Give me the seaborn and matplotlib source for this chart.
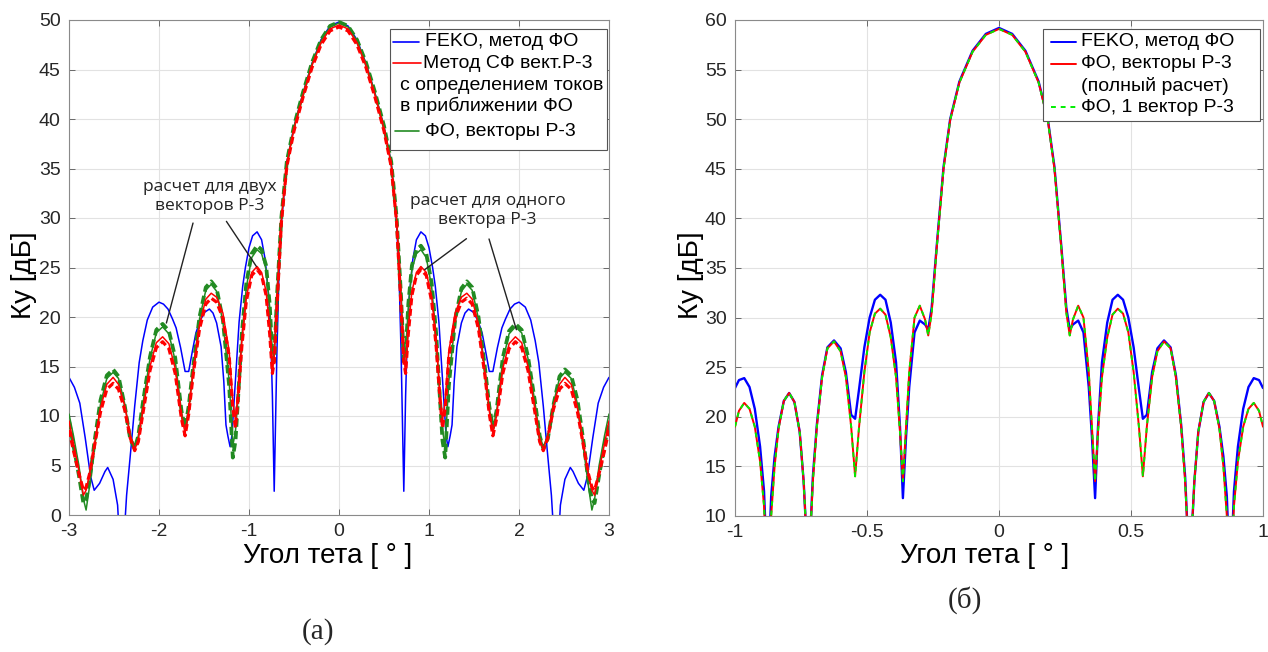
import matplotlib
matplotlib.use("Agg")
import matplotlib.pyplot as plt
from matplotlib.patches import Rectangle
from matplotlib.lines import Line2D
import seaborn as sns
import pandas as pd

# ---------------- data: panel (a) ----------------
theta_feko_a = [-3.00, -2.94, -2.88, -2.82, -2.76, -2.72, -2.66, -2.60, -2.57, -2.51, -2.46, -2.43, -2.40, -2.36,
                -2.31, -2.27, -2.22, -2.18, -2.13, -2.07, -2.00, -1.95, -1.90, -1.85, -1.81, -1.76, -1.71, -1.67,
                -1.63, -1.59, -1.54, -1.49, -1.44, -1.40, -1.36, -1.31, -1.28, -1.256, -1.235, -1.21, -1.19, -1.15,
                -1.11, -1.07, -1.04, -1.00, -0.96, -0.91, -0.86, -0.82, -0.78, -0.755, -0.74, -0.72, -0.69, -0.665,
                -0.637, -0.58, -0.5, -0.4, -0.3, -0.2, -0.1,
                0.0, 0.1, 0.2, 0.3, 0.4, 0.5, 0.58, 0.637, 0.665, 0.69, 0.72, 0.74, 0.755, 0.78, 0.82, 0.86, 0.91,
                0.96, 1.00, 1.04, 1.07, 1.11, 1.15, 1.19, 1.21, 1.235, 1.256, 1.28, 1.31, 1.36, 1.40, 1.44, 1.49,
                1.54, 1.59, 1.63, 1.67, 1.71, 1.76, 1.81, 1.85, 1.90, 1.95, 2.00, 2.07, 2.13, 2.18, 2.22, 2.27, 2.31,
                2.36, 2.40, 2.43, 2.46, 2.51, 2.57, 2.60, 2.66, 2.72, 2.76, 2.82, 2.88, 2.94, 3.00]
ku_feko_a = [13.9, 12.9, 11.3, 7.8, 3.9, 2.5, 3.2, 4.4, 4.8, 3.6, 1.0, -4.0, -4.0, 2.0,
             6.9, 11.0, 15.4, 17.6, 19.7, 21.0, 21.5, 21.3, 20.8, 19.8, 18.9, 16.9, 14.5, 14.5,
             16.5, 18.4, 19.7, 20.5, 20.8, 20.4, 19.4, 17.0, 13.5, 9.1, 8.0, 6.9, 8.0, 13.7,
             19.5, 23.1, 25.0, 27.0, 28.2, 28.6, 27.8, 25.8, 22.0, 17.0, 12.0, 2.4, 16.4, 25.0,
             29.8, 35.6, 39.2, 42.6, 45.6, 48.0, 49.4,
             49.8, 49.4, 48.0, 45.6, 42.6, 39.2, 35.6, 29.8, 25.0, 16.4, 2.4, 12.0, 17.0, 22.0, 25.8, 27.8, 28.6,
             28.2, 27.0, 25.0, 23.1, 19.5, 13.7, 8.0, 6.9, 8.0, 9.1, 13.5, 17.0, 19.4, 20.4, 20.8, 20.5,
             19.7, 18.4, 16.5, 14.5, 14.5, 16.9, 18.9, 19.8, 20.8, 21.3, 21.5, 21.0, 19.7, 17.6, 15.4, 11.0, 6.9,
             2.0, -4.0, -4.0, 1.0, 3.6, 4.8, 4.4, 3.2, 2.5, 3.9, 7.8, 11.3, 12.9, 13.9]

theta_po_a = [-3.00, -2.95, -2.89, -2.84, -2.81, -2.77, -2.72, -2.65, -2.58, -2.51, -2.45, -2.38, -2.32, -2.27,
              -2.23, -2.18, -2.10, -2.03, -1.96, -1.89, -1.82, -1.75, -1.71, -1.67, -1.62, -1.55, -1.48, -1.42,
              -1.36, -1.29, -1.22, -1.18, -1.15, -1.12, -1.08, -1.03, -0.97, -0.91, -0.86, -0.81, -0.77, -0.74,
              -0.72, -0.69, -0.64, -0.58, -0.5, -0.4, -0.3, -0.2, -0.1,
              0.0, 0.1, 0.2, 0.3, 0.4, 0.5, 0.58, 0.64, 0.69, 0.72, 0.74, 0.77, 0.81, 0.86, 0.91, 0.97, 1.03,
              1.08, 1.12, 1.15, 1.18, 1.22, 1.29, 1.36, 1.42, 1.48, 1.55, 1.62, 1.67, 1.71, 1.75, 1.82, 1.89,
              1.96, 2.03, 2.10, 2.18, 2.23, 2.27, 2.32, 2.38, 2.45, 2.51, 2.58, 2.65, 2.72, 2.77, 2.81, 2.84,
              2.89, 2.95, 3.00]
ku_sf_a = [9.5, 7.2, 4.5, 2.0, 2.5, 4.2, 7.0, 10.8, 13.2, 13.9, 13.2, 11.0, 8.0, 6.6,
           7.6, 10.5, 15.0, 17.4, 18.0, 17.3, 14.8, 10.0, 8.3, 10.5, 14.5, 19.2, 21.8, 22.4,
           22.0, 20.4, 16.5, 11.5, 9.6, 12.5, 17.5, 22.0, 24.5, 25.1, 24.5, 22.6, 18.8, 14.6,
           16.0, 21.5, 29.8, 35.4, 39.0, 42.4, 45.4, 47.7, 49.1,
           49.5, 49.1, 47.7, 45.4, 42.4, 39.0, 35.4, 29.8, 21.5, 16.0, 14.6, 18.8, 22.6, 24.5, 25.1, 24.5, 22.0,
           17.5, 12.5, 9.6, 11.5, 16.5, 20.4, 22.0, 22.4, 21.8, 19.2, 14.5, 10.5, 8.3, 10.0, 14.8, 17.3,
           18.0, 17.4, 15.0, 10.5, 7.6, 6.6, 8.0, 11.0, 13.2, 13.9, 13.2, 10.8, 7.0, 4.2, 2.5, 2.0,
           4.5, 7.2, 9.5]
ku_sf_a_one = [8.6, 6.5, 4.2, 2.5, 2.8, 4.2, 6.8, 10.4, 12.7, 13.3, 12.7, 10.6, 7.8, 6.5,
               7.4, 10.2, 14.6, 16.9, 17.5, 16.8, 14.3, 9.7, 8.0, 10.2, 14.2, 18.8, 21.3, 21.9,
               21.5, 19.9, 16.0, 10.8, 8.8, 12.0, 17.0, 21.6, 24.2, 24.8, 24.2, 22.2, 18.3, 14.3,
               15.5, 21.0, 29.6, 35.2, 38.8, 42.2, 45.2, 47.5, 48.9,
               49.3, 48.9, 47.5, 45.2, 42.2, 38.8, 35.2, 29.6, 21.0, 15.5, 14.3, 18.3, 22.2, 24.2, 24.8, 24.2, 21.6,
               17.0, 12.0, 8.8, 10.8, 16.0, 19.9, 21.5, 21.9, 21.3, 18.8, 14.2, 10.2, 8.0, 9.7, 14.3, 16.8,
               17.5, 16.9, 14.6, 10.2, 7.4, 6.5, 7.8, 10.6, 12.7, 13.3, 12.7, 10.4, 6.8, 4.2, 2.8, 2.5,
               4.2, 6.5, 8.6]
ku_fo_a = [10.2, 8.0, 5.0, 1.6, 0.5, 3.0, 6.5, 11.2, 13.8, 14.4, 13.8, 11.2, 8.0, 6.9,
           8.0, 11.2, 15.8, 18.4, 19.0, 18.3, 15.6, 10.4, 8.8, 10.8, 14.8, 19.8, 22.7, 23.3,
           22.6, 19.5, 13.5, 7.0, 8.5, 12.0, 18.0, 23.0, 26.0, 26.8, 26.4, 24.8, 21.0, 16.5,
           15.9, 22.5, 30.0, 35.6, 39.2, 42.6, 45.6, 47.9, 49.3,
           49.7, 49.3, 47.9, 45.6, 42.6, 39.2, 35.6, 30.0, 22.5, 15.9, 16.5, 21.0, 24.8, 26.4, 26.8, 26.0, 23.0,
           18.0, 12.0, 8.5, 7.0, 13.5, 19.5, 22.6, 23.3, 22.7, 19.8, 14.8, 10.8, 8.8, 10.4, 15.6, 18.3,
           19.0, 18.4, 15.8, 11.2, 8.0, 6.9, 8.0, 11.2, 13.8, 14.4, 13.8, 11.2, 6.5, 3.0, 0.5, 1.6,
           5.0, 8.0, 10.2]
ku_fo_a_one = [9.5, 7.0, 4.0, 1.2, 1.6, 3.5, 7.2, 11.6, 14.1, 14.7, 14.0, 11.0, 7.7, 6.7,
               8.0, 11.3, 16.0, 18.7, 19.3, 18.6, 15.9, 10.5, 8.8, 11.0, 15.0, 20.0, 23.0, 23.6,
               22.9, 19.7, 13.0, 5.8, 7.5, 12.0, 18.3, 23.4, 26.4, 27.2, 26.8, 25.2, 21.3, 16.2,
               15.5, 22.0, 30.1, 35.7, 39.3, 42.7, 45.7, 48.0, 49.4,
               49.8, 49.4, 48.0, 45.7, 42.7, 39.3, 35.7, 30.1, 22.0, 15.5, 16.2, 21.3, 25.2, 26.8, 27.2, 26.4, 23.4,
               18.3, 12.0, 7.5, 5.8, 13.0, 19.7, 22.9, 23.6, 23.0, 20.0, 15.0, 11.0, 8.8, 10.5, 15.9, 18.6,
               19.3, 18.7, 16.0, 11.3, 8.0, 6.7, 7.7, 11.0, 14.0, 14.7, 14.1, 11.6, 7.2, 3.5, 1.6, 1.2,
               4.0, 7.0, 9.5]

# ---------------- data: panel (б) ----------------
theta_b = [-1.0, -0.985, -0.965, -0.945, -0.925, -0.905, -0.89, -0.876, -0.863, -0.85, -0.835, -0.815, -0.795,
           -0.775, -0.755, -0.74, -0.722, -0.705, -0.69, -0.67, -0.65, -0.625, -0.60, -0.58, -0.56, -0.545,
           -0.53, -0.51, -0.49, -0.47, -0.45, -0.43, -0.41, -0.39, -0.375, -0.364, -0.352, -0.34, -0.32, -0.30,
           -0.28, -0.268, -0.255, -0.236, -0.21, -0.185, -0.15, -0.10, -0.05,
           0.0, 0.05, 0.10, 0.15, 0.185, 0.21, 0.236, 0.255, 0.268, 0.28, 0.30, 0.32, 0.34, 0.352, 0.364, 0.375,
           0.39, 0.41, 0.43, 0.45, 0.47, 0.49, 0.51, 0.53, 0.545, 0.56, 0.58, 0.60, 0.625, 0.65, 0.67, 0.69,
           0.705, 0.722, 0.74, 0.755, 0.775, 0.795, 0.815, 0.835, 0.85, 0.863, 0.876, 0.89, 0.905, 0.925,
           0.945, 0.965, 0.985, 1.0]
ku_feko_b = [22.9, 23.7, 23.9, 23.0, 20.8, 17.0, 12.5, 3.0, 12.0, 16.0, 19.0, 21.6, 22.4,
             21.5, 18.5, 13.5, 4.0, 14.0, 19.2, 24.2, 27.0, 27.7, 26.9, 24.5, 20.2, 19.8,
             22.8, 27.0, 30.0, 31.8, 32.3, 31.8, 29.5, 25.5, 19.0, 11.8, 18.0, 23.0, 28.5, 29.7,
             29.3, 28.8, 31.0, 37.2, 45.2, 50.0, 53.8, 56.9, 58.6,
             59.2, 58.6, 56.9, 53.8, 50.0, 45.2, 37.2, 31.0, 28.8, 29.3, 29.7, 28.5, 23.0, 18.0, 11.8, 19.0,
             25.5, 29.5, 31.8, 32.3, 31.8, 30.0, 27.0, 22.8, 19.8, 20.2, 24.5, 26.9, 27.7, 27.0, 24.2, 19.2,
             14.0, 4.0, 13.5, 18.5, 21.5, 22.4, 21.6, 19.0, 16.0, 12.0, 3.0, 12.5, 17.0, 20.8,
             23.0, 23.9, 23.7, 22.9]
ku_fo_full_b = [19.0, 20.6, 21.4, 20.8, 19.0, 15.5, 11.0, 3.0, 10.0, 15.0, 18.8, 21.6, 22.4,
                21.5, 18.5, 13.5, 4.0, 13.5, 19.0, 24.0, 26.9, 27.6, 26.6, 24.0, 19.0, 14.0,
                19.0, 24.5, 28.5, 30.4, 30.9, 30.3, 28.0, 24.0, 18.5, 13.5, 19.0, 24.5, 30.0, 31.2,
                29.8, 28.2, 30.5, 37.0, 45.0, 49.9, 53.7, 56.8, 58.5,
                59.1, 58.5, 56.8, 53.7, 49.9, 45.0, 37.0, 30.5, 28.2, 29.8, 31.2, 30.0, 24.5, 19.0, 13.5, 18.5,
                24.0, 28.0, 30.3, 30.9, 30.4, 28.5, 24.5, 19.0, 14.0, 19.0, 24.0, 26.6, 27.6, 26.9, 24.0, 19.0,
                13.5, 4.0, 13.5, 18.5, 21.5, 22.4, 21.6, 18.8, 15.0, 10.0, 3.0, 11.0, 15.5, 19.0,
                20.8, 21.4, 20.6, 19.0]
ku_fo_one_b = [19.0, 20.6, 21.4, 20.8, 19.0, 15.5, 11.0, 3.0, 10.0, 15.0, 18.8, 21.6, 22.4,
               21.5, 18.5, 13.5, 4.0, 13.5, 19.0, 24.0, 26.9, 27.6, 26.6, 24.0, 19.0, 14.0,
               19.0, 24.5, 28.5, 30.4, 30.9, 30.3, 28.0, 24.0, 18.5, 13.5, 19.0, 24.5, 30.0, 31.2,
               29.8, 28.2, 30.5, 37.0, 45.0, 49.9, 53.7, 56.8, 58.5,
               59.1, 58.5, 56.8, 53.7, 49.9, 45.0, 37.0, 30.5, 28.2, 29.8, 31.2, 30.0, 24.5, 19.0, 13.5, 18.5,
               24.0, 28.0, 30.3, 30.9, 30.4, 28.5, 24.5, 19.0, 14.0, 19.0, 24.0, 26.6, 27.6, 26.9, 24.0, 19.0,
               13.5, 4.0, 13.5, 18.5, 21.5, 22.4, 21.6, 18.8, 15.0, 10.0, 3.0, 11.0, 15.5, 19.0,
               20.8, 21.4, 20.6, 19.0]

legend_a = ["FEKO, метод ФО", "Метод СФ вект.Р-3", "с определением токов", "в приближении ФО", "ФО, векторы Р-3"]
legend_b = ["FEKO, метод ФО", "ФО, векторы Р-3", "(полный расчет)", "ФО, 1 вектор Р-3"]
xticks_a = [-3, -2, -1, 0, 1, 2, 3]
yticks_a = [0, 5, 10, 15, 20, 25, 30, 35, 40, 45, 50]
xticks_b = [-1, -0.5, 0, 0.5, 1]
yticks_b = [10, 15, 20, 25, 30, 35, 40, 45, 50, 55, 60]

# ---------------- style ----------------
sns.set_theme(style="white")
plt.rcParams['font.family'] = ['Liberation Sans', 'DejaVu Sans']
plt.rcParams['axes.unicode_minus'] = False

W, H = 1268, 652
fig = plt.figure(figsize=(W / 100, H / 100), dpi=100)
fig.patch.set_facecolor('white')
ax1 = fig.add_axes([69 / W, 1 - 515 / H, 540 / W, 495 / H])
ax2 = fig.add_axes([735 / W, 1 - 516 / H, 528 / W, 496 / H])

BLUE = '#0000ff'
RED = '#ff0000'
DGREEN = '#228B22'
LGREEN = '#00ee00'
TXT = '#262626'


def draw(ax, x, y, color, lw, ls='-', z=2):
    sns.lineplot(x=x, y=y, ax=ax, color=color, linewidth=lw, linestyle=ls,
                 estimator=None, sort=False, zorder=z)


draw(ax1, theta_feko_a, ku_feko_a, BLUE, 1.1, '-', 2)
draw(ax1, theta_po_a, ku_fo_a_one, DGREEN, 2.7, (0, (2.2, 1.1)), 3)
draw(ax1, theta_po_a, ku_fo_a, DGREEN, 1.1, '-', 3)
draw(ax1, theta_po_a, ku_sf_a_one, RED, 2.3, (0, (2.2, 1.1)), 4)
draw(ax1, theta_po_a, ku_sf_a, RED, 1.1, '-', 4)

draw(ax2, theta_b, ku_feko_b, BLUE, 1.7, '-', 2)
draw(ax2, theta_b, ku_fo_full_b, RED, 1.4, '-', 3)
draw(ax2, theta_b, ku_fo_one_b, LGREEN, 1.4, (0, (2.5, 2.5)), 4)

for ax, xt, yt, xl, yl in [(ax1, xticks_a, yticks_a, (-3, 3), (0, 50)),
                           (ax2, xticks_b, yticks_b, (-1, 1), (10, 60))]:
    ax.set_xlim(*xl)
    ax.set_ylim(*yl)
    ax.set_xticks(xt)
    ax.set_yticks(yt)
    ax.set_xticklabels([f"{v:g}" for v in xt])
    ax.set_yticklabels([f"{v:g}" for v in yt])
    ax.grid(True, color='#e2e2e2', linewidth=0.8)
    ax.set_axisbelow(True)
    for s in ax.spines.values():
        s.set_visible(True)
        s.set_color('#8a8a8a')
        s.set_linewidth(0.8)
    ax.tick_params(axis='both', which='both', direction='in', length=4, width=0.6,
                   color='#555555', labelcolor=TXT, labelsize=14, top=True, right=True,
                   bottom=True, left=True)
    ax.tick_params(axis='x', pad=6)
    ax.tick_params(axis='y', pad=6)
    ax.set_xlabel("Угол тета [ ° ]", fontsize=20, color='black')
    ax.set_ylabel("Ку [дБ]", fontsize=20, color='black')

ax1.xaxis.set_label_coords((328 - 69) / 540, (515 - 543) / 495)
ax1.yaxis.set_label_coords((37 - 69) / 540, (515 - 275) / 495)
ax2.xaxis.set_label_coords((985 - 735) / 528, (516 - 543) / 496)
ax2.yaxis.set_label_coords((704 - 735) / 528, (516 - 275) / 496)

FT = fig.transFigure


def fx(px):
    return px / W


def fy(py):
    return 1 - py / H


def manual_legend(ax, box, rows):
    x0, y0, x1, y1 = box
    ax.add_patch(Rectangle((fx(x0), fy(y1)), fx(x1) - fx(x0), fy(y0) - fy(y1), transform=FT,
                           facecolor='white', edgecolor='#555555', linewidth=0.8, zorder=10, clip_on=False))
    for label, tx, ty, handle in rows:
        if handle is not None:
            hx0, hx1, col, lw, ls = handle
            ax.add_line(Line2D([fx(hx0), fx(hx1)], [fy(ty), fy(ty)], transform=FT, color=col,
                               linewidth=lw, linestyle=ls, zorder=11, clip_on=False))
        ax.text(fx(tx), fy(ty), label, transform=FT, ha='left', va='center', fontsize=14,
                color='black', zorder=12)


manual_legend(ax1, (390, 29, 607, 150), [
    (legend_a[0], 425, 42, (393, 419, BLUE, 1.2, '-')),
    (legend_a[1], 423, 63, (393, 421, RED, 1.2, '-')),
    (legend_a[2], 400, 85, None),
    (legend_a[3], 400, 106, None),
    (legend_a[4], 425, 131, (395, 419, DGREEN, 1.2, '-')),
])
manual_legend(ax2, (1043, 29, 1260, 121), [
    (legend_b[0], 1081, 42, (1051, 1076, BLUE, 1.4, '-')),
    (legend_b[1], 1081, 64, (1051, 1076, RED, 1.4, '-')),
    (legend_b[2], 1081, 86, None),
    (legend_b[3], 1081, 107, (1051, 1076, LGREEN, 1.4, (0, (2.5, 2.5)))),
])

# annotations in panel (a)
ann_font = dict(family=['Open Sans', 'DejaVu Sans'], fontsize=12.5, color='#222222', ha='center',
                va='center', linespacing=1.25)
ax1.text(-1.44, 32.15, "расчет для двух\nвекторов Р-3", zorder=8, **ann_font)
ax1.text(1.65, 30.8, "расчет для одного\nвектора Р-3", zorder=8, **ann_font)
for (xs, ys), (xe, ye) in [((-1.622, 29.49), (-1.918, 19.39)),
                           ((-1.251, 29.66), (-0.918, 25.11)),
                           ((1.416, 27.91), (0.952, 24.78)),
                           ((1.667, 27.88), (1.971, 18.72))]:
    ax1.annotate("", xy=(xe, ye), xytext=(xs, ys),
                 arrowprops=dict(arrowstyle='-', color='#222222', lw=1.0, shrinkA=0, shrinkB=0), zorder=8)

fig.text(fx(318), fy(632), "(а)", ha='center', va='center', fontsize=21,
         family=['Liberation Serif', 'DejaVu Serif'])
fig.text(fx(965), fy(600), "(б)", ha='center', va='center', fontsize=21,
         family=['Liberation Serif', 'DejaVu Serif'])

fig.savefig("out.png", dpi=100, facecolor='white')
